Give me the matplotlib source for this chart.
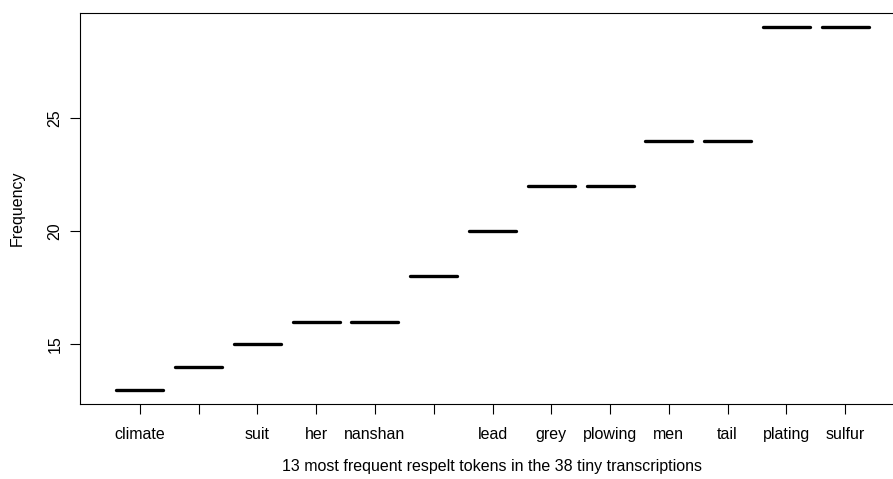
"""Frequency of the 13 most frequent respelt tokens (R-style plot)."""

import matplotlib

matplotlib.use("Agg")
import matplotlib.pyplot as plt

tokens = ["climate", "", "suit", "her", "nanshan", "", "lead",
          "grey", "plowing", "men", "tail", "plating", "sulfur"]
counts = [13, 14, 15, 16, 16, 18, 20, 22, 22, 24, 24, 29, 29]
y_ticks = [15, 20, 25]

plt.rcParams["font.family"] = ["Liberation Sans", "DejaVu Sans"]
plt.rcParams["font.size"] = 11.5

fig = plt.figure(figsize=(8.93, 4.79), dpi=100)
# plot region runs past the right edge of the picture, as in the reference
ax = fig.add_axes([80 / 893, 74.7 / 479, 825 / 893, 391.6 / 479])

positions = list(range(1, len(counts) + 1))
ax.hlines(counts, [p - 0.4 for p in positions], [p + 0.4 for p in positions],
          colors="black", linewidth=2.4, capstyle="round")

ax.set_xlim(-0.02, 14.02)
ax.set_ylim(12.36, 29.64)
ax.set_xticks(positions, tokens)
ax.set_yticks(y_ticks, [str(v) for v in y_ticks])
ax.tick_params(axis="both", direction="out", length=7.2, width=0.8, color="black")
ax.tick_params(axis="x", pad=9.5)
ax.tick_params(axis="y", pad=5.5)
for lab in ax.get_yticklabels():
    lab.set_rotation(90)
    lab.set_va("center")
for sp in ax.spines.values():
    sp.set_linewidth(0.8)
    sp.set_color("black")

fig.text(17.5 / 893, 1 - 208.5 / 479, "Frequency", rotation=90,
         ha="center", va="center", fontsize=11.5)
fig.text(492.5 / 893, 1 - 467 / 479, "13 most frequent respelt tokens in the 38 tiny transcriptions",
         ha="center", va="center", fontsize=11.5)

fig.savefig("out.png", dpi=100)
